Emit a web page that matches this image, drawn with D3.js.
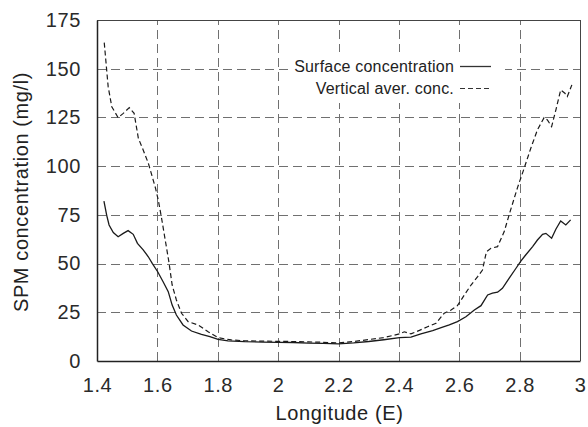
<!DOCTYPE html>
<html>
<head>
<meta charset="utf-8">
<script src="https://cdn.jsdelivr.net/npm/d3@7"></script>
<style>
html,body{margin:0;padding:0;background:#fff;}
svg{display:block;font-family:"Liberation Sans",Arial,sans-serif;}
</style>
</head>
<body>
<svg id="chart" width="588" height="427"></svg>
<script>
const lonSurface = [1.423,1.432,1.440,1.454,1.470,1.487,1.503,1.520,1.534,1.553,1.570,1.583,1.601,1.619,1.636,1.649,1.663,1.685,1.713,1.746,1.774,1.801,1.834,1.889,1.95,2.0,2.05,2.1,2.15,2.2,2.25,2.30,2.35,2.402,2.440,2.473,2.512,2.540,2.567,2.594,2.622,2.650,2.672,2.694,2.710,2.727,2.743,2.765,2.788,2.804,2.820,2.843,2.859,2.876,2.887,2.906,2.920,2.936,2.953,2.969];
const surface = [82.1,74.9,69.8,65.9,63.8,65.5,66.9,65.0,60.4,57.0,53.5,50.1,45.8,40.7,35.6,28.7,23.6,18.5,15.4,13.7,12.5,11.1,10.3,9.9,9.7,9.6,9.5,9.2,9.0,8.8,9.3,10.0,10.9,12.0,12.2,13.9,15.6,17.1,18.5,20.2,22.7,26.2,28.4,33.9,34.8,35.3,37.3,42.4,47.6,51.3,54.4,58.7,62.1,65.0,65.5,63.0,67.6,71.9,69.8,72.4];
const lonVertical = [1.424,1.432,1.437,1.449,1.470,1.487,1.507,1.523,1.537,1.553,1.570,1.583,1.594,1.603,1.614,1.627,1.638,1.649,1.663,1.680,1.702,1.735,1.768,1.801,1.845,1.889,1.95,2.0,2.05,2.1,2.15,2.2,2.25,2.30,2.35,2.402,2.418,2.440,2.468,2.495,2.523,2.550,2.573,2.594,2.617,2.639,2.661,2.677,2.690,2.705,2.727,2.749,2.765,2.793,2.815,2.837,2.859,2.881,2.892,2.906,2.920,2.936,2.950,2.958,2.973];
const vertical = [163.4,149.4,140.8,130.5,124.9,127.1,130.0,127.1,114.3,108.3,101.5,94.6,88.6,82.6,73.2,61.2,51.0,39.0,31.3,24.5,20.2,18.5,15.0,12.0,10.8,10.4,10.2,10.1,10.0,9.8,9.6,9.3,10.0,11.0,12.0,13.9,15.0,13.9,15.7,17.6,19.4,24.5,26.2,28.4,33.9,39.0,43.3,46.7,56.1,57.8,58.7,66.4,74.9,89.0,98.9,109.2,118.6,124.9,123.7,120.3,128.8,139.1,137.4,135.7,141.7];
const xTicks = [1.4,1.6,1.8,2.0,2.2,2.4,2.6,2.8,3.0];
const yTicks = [0,25,50,75,100,125,150,175];
const seriesNames = ["Surface concentration","Vertical aver. conc."];
const xTitle = "Longitude (E)";
const yTitle = "SPM concentration (mg/l)";

const svg = d3.select("#chart");
const L = 97, R = 580, T = 20, B = 361;
const x = d3.scaleLinear().domain([1.4,3.0]).range([L,R]);
const y = d3.scaleLinear().domain([0,175]).range([B,T]);

// grid
const grid = svg.append("g").attr("stroke","#707070").attr("stroke-width",1).attr("stroke-dasharray","9,5");
grid.selectAll(".gx").data(xTicks.slice(1,-1)).join("line")
  .attr("x1",d=>Math.round(x(d))+0.5).attr("x2",d=>Math.round(x(d))+0.5).attr("y1",B).attr("y2",T);
grid.selectAll(".gy").data(yTicks.slice(1,-1)).join("line")
  .attr("y1",d=>Math.round(y(d))+0.5).attr("y2",d=>Math.round(y(d))+0.5).attr("x1",L).attr("x2",R);

// legend background
svg.append("rect").attr("x",288).attr("y",52).attr("width",217).attr("height",51).attr("fill","#fff");

// frame
svg.append("line").attr("x1",L).attr("x2",R).attr("y1",T+0.5).attr("y2",T+0.5).attr("stroke","#444");
svg.append("line").attr("x1",R+0.5).attr("x2",R+0.5).attr("y1",T).attr("y2",B).attr("stroke","#444");

// axes
const xAxis = d3.axisBottom(x).tickValues(xTicks).tickSize(0).tickPadding(17).tickFormat(d=>d3.format("")(+d.toFixed(1)));
const gx = svg.append("g").attr("transform",`translate(0,${B})`).call(xAxis);
gx.select(".domain").attr("stroke","#222").attr("stroke-width",1.5);
gx.selectAll("text").attr("font-size",20).attr("fill","#2a2a2a").attr("letter-spacing","0.6px").attr("font-family","Liberation Sans, Arial, sans-serif");

const yAxis = d3.axisLeft(y).tickValues(yTicks).tickSize(0).tickPadding(16);
const gy = svg.append("g").attr("transform",`translate(${L},0)`).call(yAxis);
gy.select(".domain").attr("stroke","#222").attr("stroke-width",1.5);
gy.selectAll("text").attr("font-size",20).attr("fill","#2a2a2a").attr("letter-spacing","0.6px").attr("font-family","Liberation Sans, Arial, sans-serif");

// lines
const line = d3.line().x(d=>x(d[0])).y(d=>y(d[1]));
svg.append("path").datum(d3.zip(lonSurface,surface)).attr("d",line)
  .attr("fill","none").attr("stroke","#1a1a1a").attr("stroke-width",1.3);
svg.append("path").datum(d3.zip(lonVertical,vertical)).attr("d",line)
  .attr("fill","none").attr("stroke","#1a1a1a").attr("stroke-width",1.2).attr("stroke-dasharray","5,3");

// legend
const lg = svg.append("g").attr("font-size",16).attr("fill","#222");
lg.append("text").attr("x",454).attr("y",72).attr("text-anchor","end").attr("letter-spacing","0.2px").text(seriesNames[0]);
lg.append("text").attr("x",454).attr("y",94).attr("text-anchor","end").attr("letter-spacing","0.2px").text(seriesNames[1]);
lg.append("line").attr("x1",460).attr("x2",491).attr("y1",66.5).attr("y2",66.5).attr("stroke","#333").attr("stroke-width",1.3);
lg.append("line").attr("x1",460).attr("x2",491).attr("y1",88.5).attr("y2",88.5).attr("stroke","#333").attr("stroke-width",1.2).attr("stroke-dasharray","5,3");

// titles
svg.append("text").attr("x",(L+R)/2+1).attr("y",420).attr("text-anchor","middle")
  .attr("font-size",20).attr("letter-spacing","0.6px").attr("fill","#222").text(xTitle);
svg.append("text").attr("transform",`translate(28,192) rotate(-90)`).attr("text-anchor","middle")
  .attr("font-size",20).attr("letter-spacing","0.6px").attr("fill","#222").text(yTitle);
</script>
</body>
</html>
